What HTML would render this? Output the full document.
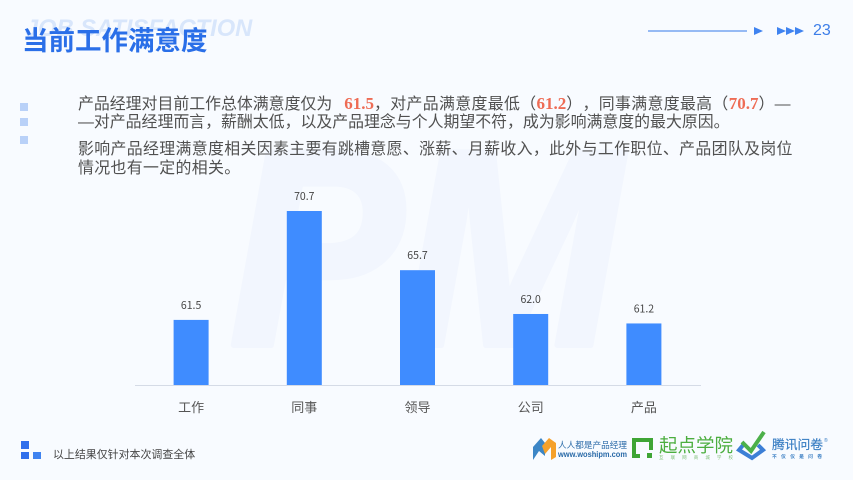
<!DOCTYPE html>
<html lang="zh">
<head>
<meta charset="utf-8">
<title>当前工作满意度</title>
<style>
html,body{margin:0;padding:0;}
body{width:853px;height:480px;overflow:hidden;background:#f8fbff;position:relative;font-family:"Liberation Sans","Noto Sans CJK SC",sans-serif;}
.abs{position:absolute;white-space:nowrap;}
.para{left:78px;font-size:15.9px;letter-spacing:0.355px;line-height:20px;color:#505050;font-family:"Liberation Sans","Noto Sans CJK SC",sans-serif;text-spacing-trim:space-all;}
.tight{letter-spacing:0;}
.num{color:#ee6c55;font-family:"Liberation Serif","Noto Serif CJK SC",serif;font-weight:700;font-size:17px;letter-spacing:0;}
.sq{position:absolute;}
</style>
</head>
<body>
<svg class="abs" style="left:0;top:0" width="853" height="480">
  <text x="229" y="345" font-family="Liberation Sans" font-weight="700" font-style="italic" font-size="280" fill="#f2f6fe" stroke="#f2f6fe" stroke-width="6" stroke-linejoin="round" textLength="392" lengthAdjust="spacingAndGlyphs">PM</text>
</svg>

<div class="abs" style="left:25px;top:15px;font-size:23.7px;font-weight:700;font-style:italic;color:#d8e6fb;line-height:28px">JOB SATISFACTION</div>
<div class="abs" style="left:22px;top:23px;font-size:26.5px;line-height:36px;font-weight:700;color:#2a6fe8;font-family:'Liberation Sans','Noto Sans CJK SC',sans-serif">当前工作满意度</div>

<svg class="abs" style="left:640px;top:20px" width="180" height="22">
  <line x1="8" y1="11" x2="107" y2="11" stroke="#3478ea" stroke-width="1"/>
  <polygon points="114,7 123,11 114,15" fill="#3f83f0"/>
  <polygon points="137,7 146,11 137,15" fill="#3f83f0"/>
  <polygon points="146,7 155,11 146,15" fill="#3f83f0"/>
  <polygon points="155,7 164,11 155,15" fill="#3f83f0"/>
</svg>
<div class="abs" style="left:813px;top:21px;font-size:16px;line-height:20px;color:#3d7ee8">23</div>

<div class="sq" style="left:20px;top:103px;width:8px;height:8px;background:#b9d1f8"></div>
<div class="sq" style="left:20px;top:118px;width:8px;height:8px;background:#b9d1f8"></div>
<div class="sq" style="left:20px;top:136px;width:8px;height:8px;background:#b9d1f8"></div>

<div class="abs para" style="top:94px"><span class="tight">产品经理对目前工作总体满意度仅为</span><span class="num" style="margin-left:12px">61.5</span>，对产品满意度最低（<span class="num">61.2</span>），同事满意度最高（<span class="num">70.7</span>）—</div>
<div class="abs para tight" style="top:113px">—对产品经理而言，薪酬太低，以及产品理念与个人期望不符，成为影响满意度的最大原因。</div>
<div class="abs para" style="top:140px">影响产品经理满意度相关因素主要有跳槽意愿、涨薪、月薪收入，此外与工作职位、产品团队及岗位</div>
<div class="abs para" style="top:159px">情况也有一定的相关。</div>

<svg id="chart" class="abs" style="left:0;top:0" width="853" height="480"></svg>

<div class="sq" style="left:21px;top:441px;width:8px;height:8px;background:#2f6fec"></div>
<div class="sq" style="left:21px;top:452px;width:8px;height:7px;background:#2f6fec"></div>
<div class="sq" style="left:33px;top:452px;width:8px;height:7px;background:#3f83f0"></div>
<div class="abs" style="left:53px;top:447px;font-size:10.95px;line-height:16px;color:#444">以上结果仅针对本次调查全体</div>

<svg class="abs" style="left:530px;top:430px" width="310" height="40">
  <g>
    <polygon points="3,17 11,8 15,13 15,26 9,21 3,30" fill="#3c86c6"/>
    <polygon points="12,16 19,8 26,13 26,27 21,30 21,17 15,24" fill="#f5a12b"/>
    <text x="28" y="18" font-size="8.5" fill="#2a6aa8" textLength="69" lengthAdjust="spacingAndGlyphs" font-family="Liberation Sans, Noto Sans CJK SC, sans-serif">人人都是产品经理</text>
    <text x="28" y="27" font-size="8.4" font-weight="700" fill="#2a6aa8" textLength="69" lengthAdjust="spacingAndGlyphs" font-family="Liberation Sans, sans-serif">www.woshipm.com</text>
  </g>
  <g>
    <path d="M110,26 H104 V10 H121 V20" fill="none" stroke="#3fa535" stroke-width="4"/>
    <rect x="117" y="23" width="5" height="5" fill="#3fa535"/>
    <text x="129" y="22" font-size="18.5" fill="#4cae3f" textLength="74" lengthAdjust="spacingAndGlyphs" font-family="Liberation Sans, Noto Sans CJK SC, sans-serif">起点学院</text>
    <text x="129" y="29" font-size="4.5" fill="#7fbf78" textLength="74" font-family="Liberation Sans, Noto Sans CJK SC, sans-serif">互联网商城学校</text>
  </g>
  <g>
    <path d="M214,14 L209,20 L222,28 L233,20 L228,15" fill="none" stroke="#3c7fd6" stroke-width="4"/>
    <path d="M212,12 L221,21 L234,2" fill="none" stroke="#4cb04a" stroke-width="4"/>
    <text x="242" y="19" font-size="12.7" fill="#3b7fc4" stroke="#3b7fc4" stroke-width="0.2" textLength="51" lengthAdjust="spacingAndGlyphs" font-family="Liberation Sans, Noto Sans CJK SC, sans-serif">腾讯问卷</text>
    <text x="294" y="12" font-size="5" fill="#3b7fc4" font-family="Liberation Sans, sans-serif">®</text>
    <text x="242" y="28" font-size="4.8" font-weight="700" fill="#3b7fc4" textLength="50" font-family="Liberation Sans, Noto Sans CJK SC, sans-serif">不仅仅是问卷</text>
  </g>
</svg>

<script>
var categories = ['工作', '同事', '领导', '公司', '产品'];
var satisfactionValues = [61.5, 70.7, 65.7, 62.0, 61.2];
var valueLabels = ['61.5', '70.7', '65.7', '62.0', '61.2'];
var domainMin = 56;
var domainMax = 70.7;

var NS = 'http://www.w3.org/2000/svg';
var svg = document.getElementById('chart');
var plotLeft = 135, plotRight = 701, baseY = 385, topY = 211;
var barWidth = 35;

function xScale(i) {
  var band = (plotRight - plotLeft) / categories.length;
  return plotLeft + band * (i + 0.5) - 0.5;
}
function yScale(v) {
  return baseY - (v - domainMin) / (domainMax - domainMin) * (baseY - topY);
}
function make(tag, attrs) {
  var el = document.createElementNS(NS, tag);
  for (var k in attrs) { el.setAttribute(k, attrs[k]); }
  svg.appendChild(el);
  return el;
}

satisfactionValues.forEach(function (v, i) {
  var cx = xScale(i);
  var y = yScale(v);
  var bar = make('rect', { x: cx - barWidth / 2, y: y, width: barWidth, height: baseY - y, fill: '#3f8cff' });
  
  

  var val = make('text', { x: cx, y: y - 11, 'text-anchor': 'middle', 'font-size': '10.5', fill: '#444', 'font-family': 'Noto Sans CJK SC, sans-serif' });
  val.textContent = valueLabels[i];
  
  

  var cat = make('text', { x: cx, y: 412, 'text-anchor': 'middle', 'font-size': '13', fill: '#555', 'font-family': 'Liberation Sans, Noto Sans CJK SC, sans-serif' });
  cat.textContent = categories[i];
  
  
});

var axis = make('line', { x1: plotLeft, y1: baseY + 0.5, x2: plotRight, y2: baseY + 0.5, stroke: '#d5dbe6', 'stroke-width': 1 });


</script>
</body>
</html>
